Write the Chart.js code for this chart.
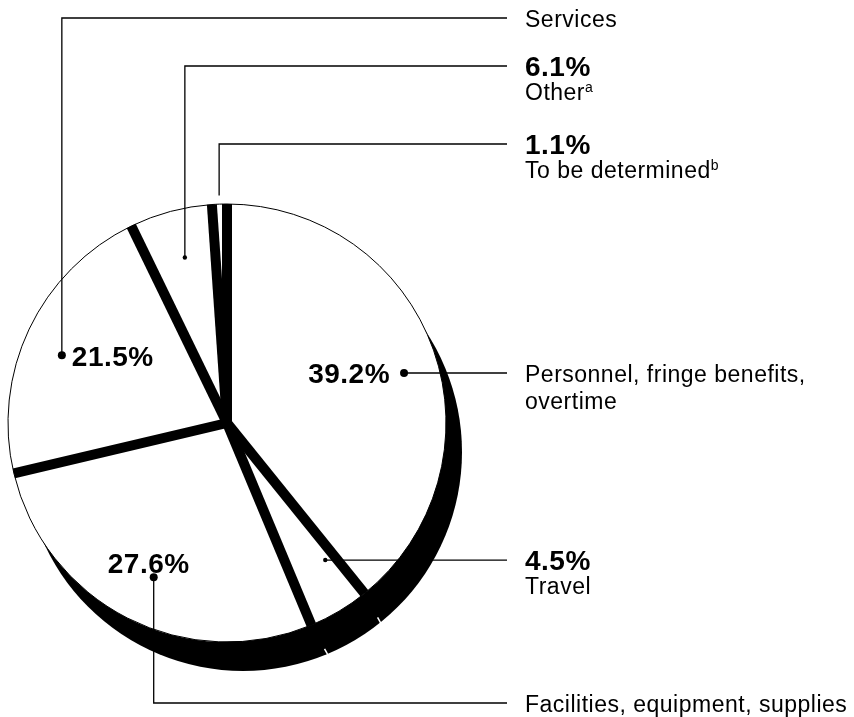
<!DOCTYPE html>
<html>
<head>
<meta charset="utf-8">
<script src="https://cdn.jsdelivr.net/npm/chart.js@4.4.1/dist/chart.umd.min.js"></script>
<style>
  html, body { margin: 0; padding: 0; background: #fff; }
  #wrap { width: 854px; height: 717px; position: relative; }
</style>
</head>
<body>
<div id="wrap"><canvas id="mycanvas"></canvas></div>
<script>
var categories = ['Personnel, fringe benefits, overtime', 'Travel', 'Facilities, equipment, supplies', 'Services', 'Other', 'To be determined'];
var shares = [39.2, 4.5, 27.6, 21.5, 6.1, 1.1];
var pctLabels = ['39.2%', '4.5%', '27.6%', '21.5%', '6.1%', '1.1%'];
var nameLines = [['Personnel, fringe benefits,', 'overtime'], ['Travel'], ['Facilities, equipment, supplies'], ['Services'], ['Other'], ['To be determined']];
var footMarks = ['', '', '', '', 'a', 'b'];

// callout placement: t = where inside the slice, rf = fraction of radius
var callouts = [
    {t: 0.526, rf: 0.84, dot: 4, lineY: null, inside: true, align: 'right', dx: -14, dy: 10},
    {t: 0.2, rf: 0.77, dot: 2.2, lineY: null, inside: false},
    {t: 0.484, rf: 0.78, dot: 4, lineY: 703, inside: true, align: 'center', dx: -5, dy: -4},
    {t: 0.46, rf: 0.815, dot: 4, lineY: 18, inside: true, align: 'left', dx: 10, dy: 11},
    {t: 0.53, rf: 0.78, dot: 2.2, lineY: 66, inside: false},
    {t: 0.5, rf: 1.04, dot: 0, lineY: 144, inside: false}
];

var shadow = {x: 16, y: 29};
var textX = 525;
var lineEnd = 507;
var FONT = "'Liberation Sans', Arial, Helvetica, sans-serif";

var pieDecor = {
    id: 'pieDecor',
    beforeDatasetsDraw: function(chart) {
        var a = chart.getDatasetMeta(0).data[0];
        var ctx = chart.ctx;
        ctx.save();
        ctx.fillStyle = '#000';
        ctx.beginPath();
        ctx.arc(a.x + shadow.x, a.y + shadow.y, a.outerRadius, 0, Math.PI * 2);
        ctx.fill();
        ctx.restore();
    },
    afterDatasetsDraw: function(chart) {
        var ctx = chart.ctx;
        var arcs = chart.getDatasetMeta(0).data;
        var cx = arcs[0].x, cy = arcs[0].y, R = arcs[0].outerRadius;
        ctx.save();
        // thick spokes between slices
        ctx.strokeStyle = '#000';
        ctx.lineWidth = 10;
        ctx.lineCap = 'butt';
        arcs.forEach(function(arc) {
            var ang = arc.startAngle;
            ctx.beginPath();
            ctx.moveTo(cx, cy);
            ctx.lineTo(cx + R * Math.cos(ang), cy + R * Math.sin(ang));
            ctx.stroke();
        });
        // little white edges on the extruded side
        ctx.strokeStyle = '#fff';
        ctx.lineWidth = 1.5;
        arcs.forEach(function(arc) {
            var ang = arc.startAngle;
            var c = Math.cos(ang), s = Math.sin(ang);
            if (c * shadow.x + s * shadow.y <= 0) return;
            var px = cx + R * c, py = cy + R * s;
            ctx.beginPath();
            ctx.moveTo(px + shadow.x * 0.82, py + shadow.y * 0.82);
            ctx.lineTo(px + shadow.x * 1.02, py + shadow.y * 1.02);
            ctx.stroke();
        });

        // callouts
        ctx.strokeStyle = '#000';
        ctx.fillStyle = '#000';
        ctx.lineWidth = 1.3;
        arcs.forEach(function(arc, i) {
            var co = callouts[i];
            var ang = arc.startAngle + (arc.endAngle - arc.startAngle) * co.t;
            var dx = cx + R * co.rf * Math.cos(ang);
            var dy = cy + R * co.rf * Math.sin(ang);
            var ly = co.lineY === null ? dy : co.lineY;

            ctx.beginPath();
            ctx.moveTo(dx, dy);
            if (co.lineY !== null) ctx.lineTo(dx, ly);
            ctx.lineTo(lineEnd, ly);
            ctx.stroke();

            if (co.dot > 0) {
                ctx.beginPath();
                ctx.arc(dx, dy, co.dot, 0, Math.PI * 2);
                ctx.fill();
            }

            ctx.letterSpacing = '0.5px';
            ctx.textBaseline = 'alphabetic';
            if (co.inside) {
                ctx.font = 'bold 28px ' + FONT;
                ctx.textAlign = co.align;
                ctx.fillText(pctLabels[i], dx + co.dx, dy + co.dy);
            }

            ctx.textAlign = 'left';
            var y = ly + 9;
            if (!co.inside) {
                ctx.font = 'bold 28px ' + FONT;
                ctx.fillText(pctLabels[i], textX, ly + 10);
                y = ly + 34;
            }
            nameLines[i].forEach(function(line, k) {
                var by = y + k * 27;
                ctx.font = '23px ' + FONT;
                ctx.letterSpacing = '0.5px';
                ctx.fillText(line, textX, by);
                if (footMarks[i] && k === nameLines[i].length - 1) {
                    var w = ctx.measureText(line).width;
                    ctx.font = '14px ' + FONT;
                    ctx.letterSpacing = '0px';
                    ctx.fillText(footMarks[i], textX + w, by - 8);
                }
            });
        });
        ctx.restore();
    }
};

var chartdata = {
    labels: categories,
    datasets: [{
        data: shares,
        backgroundColor: '#ffffff',
        borderColor: '#000000',
        borderWidth: 1,
        hoverOffset: 0
    }]
};

var ctx = document.getElementById('mycanvas');
var pieChart = new Chart(ctx, {
    type: 'pie',
    data: chartdata,
    options: {
        responsive: true,
        maintainAspectRatio: false,
        animation: false,
        radius: 219,
        layout: { padding: { left: 8, top: 204, right: 408, bottom: 75 } },
        plugins: {
            legend: { display: false },
            tooltip: { enabled: false }
        },
        events: []
    },
    plugins: [pieDecor]
});
</script>
</body>
</html>
